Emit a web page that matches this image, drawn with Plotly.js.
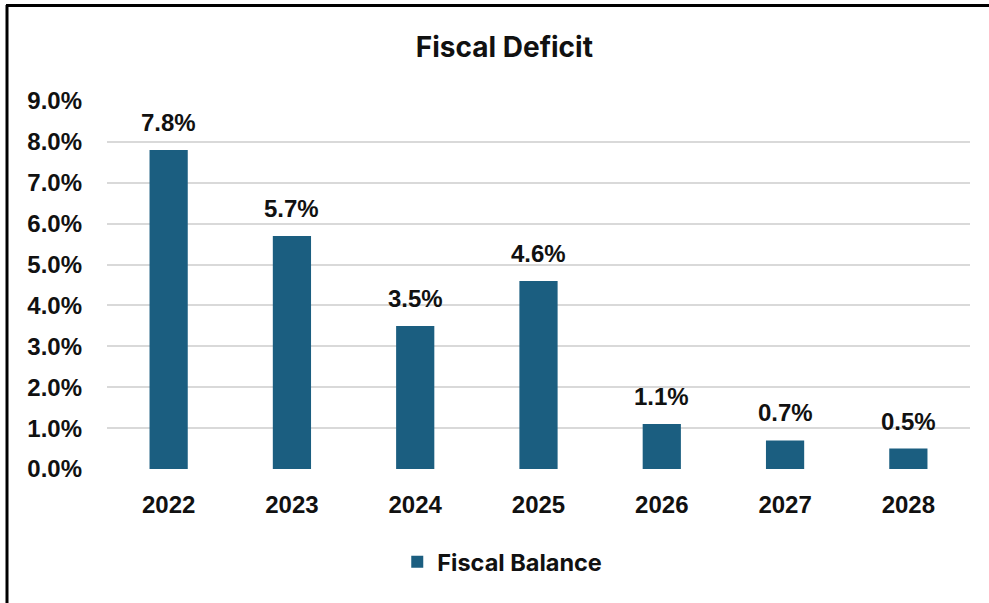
<!DOCTYPE html>
<html>
<head>
<meta charset="utf-8">
<script src="https://cdn.plot.ly/plotly-3.0.1.min.js"></script>
<style>html,body{margin:0;padding:0;background:#fff;}#chart{width:989px;height:603px;}</style>
</head>
<body>
<div id="chart"></div>
<script>
const years = ["2022", "2023", "2024", "2025", "2026", "2027", "2028"];
const fiscalBalance = [7.8, 5.7, 3.5, 4.6, 1.1, 0.7, 0.5];
const labels = fiscalBalance.map(v => v.toFixed(1) + "%");
const yTickVals = [0, 1, 2, 3, 4, 5, 6, 7, 8, 9];
const yTickText = yTickVals.map(v => v.toFixed(1) + "%");

const W = 989, H = 603, L = 107, R = 19, T = 101, B = 134;
const pw = W - L - R, ph = H - T - B;
const px = x => (x - L) / pw;
const py = y => (H - B - y) / ph;

const numFont = {family: "Liberation Sans, Arial, sans-serif", size: 24, color: "#111", weight: "bold"};

const trace = {
  type: "bar",
  x: years,
  y: fiscalBalance,
  name: "Fiscal Balance",
  marker: {color: "#1b5e80"},
  hoverinfo: "x+y"
};

const annotations = years.map((yr, i) => ({
  x: i, y: fiscalBalance[i], xref: "x", yref: "y",
  text: labels[i], showarrow: false,
  yanchor: "bottom", yshift: 12,
  font: {family: "Liberation Sans, Arial, sans-serif", size: 24, color: "#111", weight: "bold"}
}));

const layout = {
  width: W, height: H,
  margin: {l: L, r: R, t: T, b: B},
  paper_bgcolor: "#fff",
  plot_bgcolor: "#fff",
  title: {text: "Fiscal Deficit", x: 0.51, xanchor: "center", y: 1 - 47/H, yanchor: "middle",
          font: {family: "Inter, Noto Sans, sans-serif", size: 28, color: "#111", weight: "bold"}},
  bargap: 0.69,
  xaxis: {
    type: "category",
    categoryorder: "array", categoryarray: years,
    range: [-0.5, years.length - 0.5],
    showgrid: false, zeroline: false, showline: false,
    ticks: "", ticklabelstandoff: 19,
    tickfont: numFont,
    fixedrange: true
  },
  yaxis: {
    range: [0, 9],
    tickvals: yTickVals, ticktext: yTickText,
    showgrid: true, gridcolor: "#d9d9d9", gridwidth: 2,
    zeroline: false, showline: false, ticks: "",
    ticklabelstandoff: 24,
    tickfont: numFont,
    fixedrange: true
  },
  annotations: annotations,
  showlegend: true,
  legend: {orientation: "h", x: 0.458, xanchor: "center", y: py(562), yanchor: "middle",
           itemwidth: 30,
           font: {family: "Inter, Noto Sans, sans-serif", size: 23.5, color: "#111", weight: "bold"}},
  shapes: [
    {type: "line", xref: "paper", yref: "paper", x0: px(7), x1: px(7), y0: py(5), y1: py(610),
     line: {color: "#000", width: 3}},
    {type: "line", xref: "paper", yref: "paper", x0: px(6), x1: px(995), y0: py(5.5), y1: py(5.5),
     line: {color: "#000", width: 3}}
  ]
};

Plotly.newPlot("chart", [trace], layout, {displayModeBar: false, staticPlot: true});
</script>
</body>
</html>
